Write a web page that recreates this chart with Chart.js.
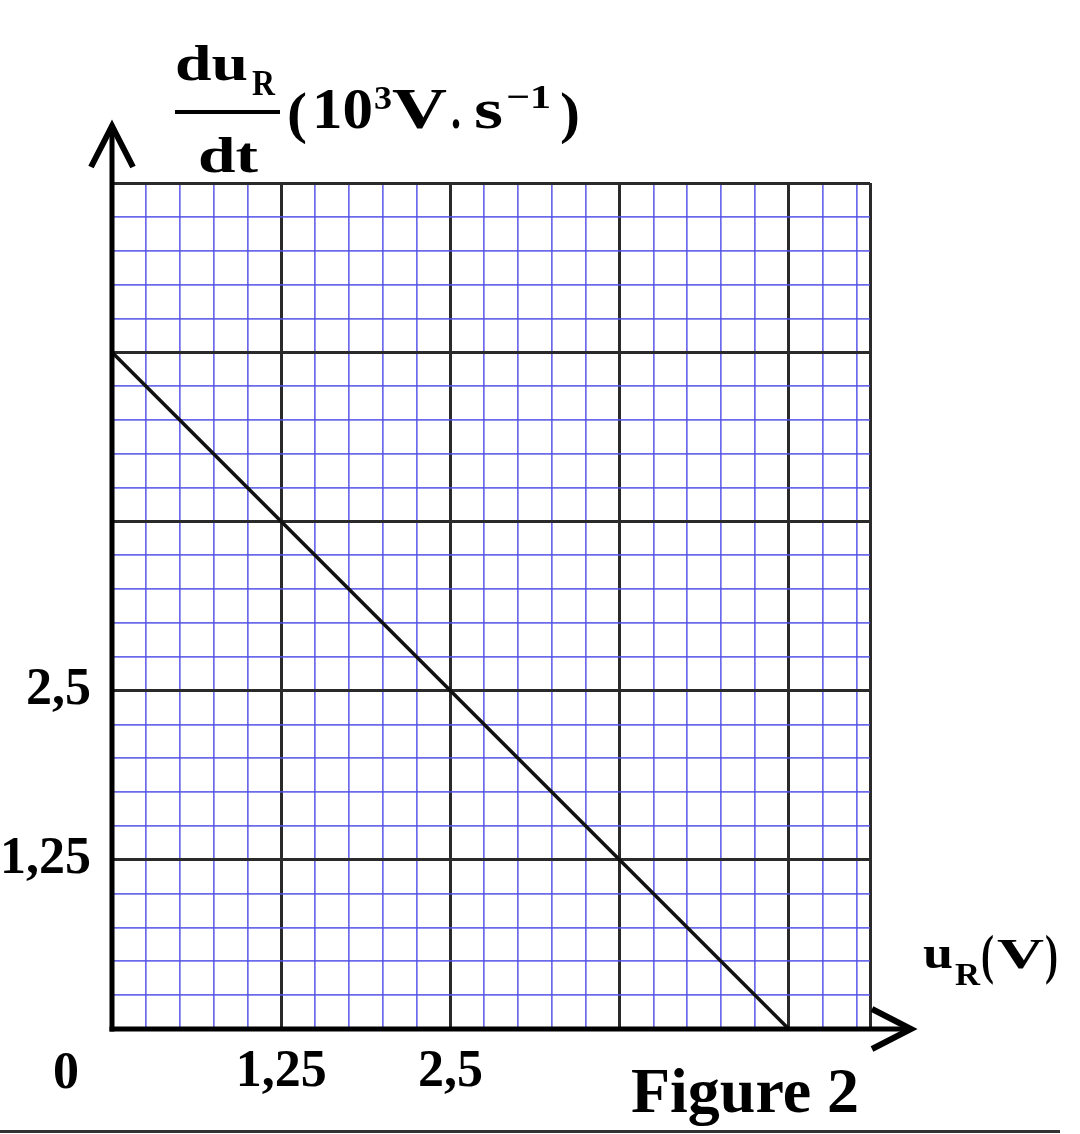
<!DOCTYPE html>
<html>
<head>
<meta charset="utf-8">
<script src="https://cdn.jsdelivr.net/npm/chart.js@4/dist/chart.umd.min.js"></script>
<style>
html,body{margin:0;padding:0;background:#fff;}
#wrap{width:1080px;height:1134px;position:relative;}
</style>
</head>
<body>
<div id="wrap"><canvas id="c" width="1080" height="1134"></canvas></div>
<script>
// ---- data ----
const lineX = [0, 5];          // u_R (V)
const lineY = [5, 0];          // du_R/dt (10^3 V/s)
const xLabelValues = [1.25, 2.5];
const xLabelTexts = ['1,25', '2,5'];
const yLabelValues = [1.25, 2.5];
const yLabelTexts = ['1,25', '2,5'];
const originLabel = '0';
const xMax = 5.6;
const yMax = 6.25;
const minorStep = 0.25;
const majorStep = 1.25;

const SERIF = '"Liberation Serif", "Times New Roman", serif';
const MINOR_COLOR = 'rgba(80,80,230,0.85)';
const MAJOR_COLOR = '#2a2a2a';

function buildTicks(max) {
  const t = [];
  for (let i = 0; i * minorStep <= max + 1e-9; i++) t.push({ value: +(i * minorStep).toFixed(4) });
  if (Math.abs(t[t.length - 1].value - max) > 1e-6) t.push({ value: max });
  return t;
}
function isMajor(v, max) {
  const r = v / majorStep;
  return Math.abs(r - Math.round(r)) < 1e-6 || Math.abs(v - max) < 1e-6;
}
function labelFor(v, vals, texts) {
  for (let i = 0; i < vals.length; i++) if (Math.abs(vals[i] - v) < 1e-6) return texts[i];
  return '';
}
// draw bold serif text, left aligned at x, baseline y, stretched to a target width
function fitText(ctx, str, x, y, size, width) {
  ctx.font = 'bold ' + size + 'px ' + SERIF;
  const w = ctx.measureText(str).width;
  const sx = width ? width / w : 1;
  ctx.save();
  ctx.translate(x, y);
  ctx.scale(sx, 1);
  ctx.textAlign = 'left';
  ctx.textBaseline = 'alphabetic';
  ctx.fillText(str, 0, 0);
  ctx.restore();
}

const decorPlugin = {
  id: 'decor',
  afterDatasetsDraw(chart) {
    const { ctx, chartArea: a } = chart;
    ctx.save();
    ctx.strokeStyle = '#000';
    ctx.fillStyle = '#000';
    ctx.lineCap = 'butt';
    ctx.lineJoin = 'miter';
    // y axis
    ctx.lineWidth = 5;
    ctx.beginPath();
    ctx.moveTo(a.left, a.bottom + 2.5);
    ctx.lineTo(a.left, a.top - 58);
    ctx.stroke();
    ctx.lineWidth = 6;
    ctx.beginPath();
    ctx.moveTo(a.left - 21, a.top - 16);
    ctx.lineTo(a.left, a.top - 57);
    ctx.lineTo(a.left + 21, a.top - 16);
    ctx.stroke();
    // x axis
    ctx.lineWidth = 5;
    ctx.beginPath();
    ctx.moveTo(a.left - 2.5, a.bottom);
    ctx.lineTo(a.right + 42, a.bottom);
    ctx.stroke();
    ctx.lineWidth = 6;
    ctx.beginPath();
    ctx.moveTo(a.right + 2, a.bottom - 20);
    ctx.lineTo(a.right + 41, a.bottom);
    ctx.lineTo(a.right + 2, a.bottom + 20);
    ctx.stroke();

    // origin label
    fitText(ctx, originLabel, 53, 1088, 52, 0);

    // y axis title: du_R/dt (10^3 V.s^-1)
    fitText(ctx, 'du', 175, 80, 50, 73);
    fitText(ctx, 'R', 252, 95, 36, 23);
    ctx.fillRect(175, 110, 105, 4);
    fitText(ctx, 'dt', 198, 172, 50, 60);
    fitText(ctx, '(', 287, 132, 58, 20);
    fitText(ctx, '10', 312, 128, 56, 61);
    fitText(ctx, '3', 374, 109, 34, 18);
    fitText(ctx, 'V', 392, 128, 56, 55);
    fitText(ctx, '.', 451, 128, 56, 10);
    fitText(ctx, 's', 474, 128, 56, 29);
    fitText(ctx, '\u22121', 506, 108, 34, 45);
    fitText(ctx, ')', 560, 132, 58, 20);

    // x axis title: u_R(V)
    fitText(ctx, 'u', 923, 968, 46, 30);
    fitText(ctx, 'R', 955, 985, 32, 25);
    fitText(ctx, '(', 981, 973, 54, 13);
    fitText(ctx, 'V', 997, 968, 42, 47);
    fitText(ctx, ')', 1045, 973, 54, 13);

    // Figure caption
    fitText(ctx, 'Figure 2', 631, 1112, 63, 228);

    // bottom rule
    ctx.strokeStyle = '#333';
    ctx.lineWidth = 3;
    ctx.beginPath();
    ctx.moveTo(0, 1131.5);
    ctx.lineTo(1060, 1131.5);
    ctx.stroke();
    ctx.restore();
  }
};

new Chart(document.getElementById('c'), {
  type: 'scatter',
  data: {
    datasets: [{
      data: lineX.map((v, i) => ({ x: v, y: lineY[i] })),
      showLine: true,
      borderColor: '#111',
      borderWidth: 3.5,
      pointRadius: 0,
      fill: false
    }]
  },
  options: {
    responsive: false,
    animation: false,
    layout: { padding: { top: 183, right: 210, left: 0, bottom: 0 } },
    plugins: { legend: { display: false }, tooltip: { enabled: false } },
    scales: {
      x: {
        type: 'linear',
        min: 0,
        max: xMax,
        afterBuildTicks: (axis) => { axis.ticks = buildTicks(xMax); },
        afterFit: (axis) => { axis.height = 105; },
        border: { display: false },
        grid: {
          drawTicks: false,
          color: (c) => isMajor(c.tick.value, xMax) ? MAJOR_COLOR : MINOR_COLOR,
          lineWidth: (c) => isMajor(c.tick.value, xMax) ? 3 : 1.7
        },
        ticks: {
          autoSkip: false,
          maxRotation: 0,
          padding: 12,
          color: '#000',
          font: { family: SERIF, size: 52, weight: 'bold' },
          callback: (v) => labelFor(v, xLabelValues, xLabelTexts)
        }
      },
      y: {
        type: 'linear',
        min: 0,
        max: yMax,
        afterBuildTicks: (axis) => { axis.ticks = buildTicks(yMax); },
        afterFit: (axis) => { axis.width = 112; },
        border: { display: false },
        grid: {
          drawTicks: false,
          color: (c) => isMajor(c.tick.value, yMax) ? MAJOR_COLOR : MINOR_COLOR,
          lineWidth: (c) => isMajor(c.tick.value, yMax) ? 3 : 1.7
        },
        ticks: {
          autoSkip: false,
          padding: 21,
          color: '#000',
          font: { family: SERIF, size: 52, weight: 'bold' },
          callback: (v) => labelFor(v, yLabelValues, yLabelTexts)
        }
      }
    }
  },
  plugins: [decorPlugin]
});
</script>
</body>
</html>
